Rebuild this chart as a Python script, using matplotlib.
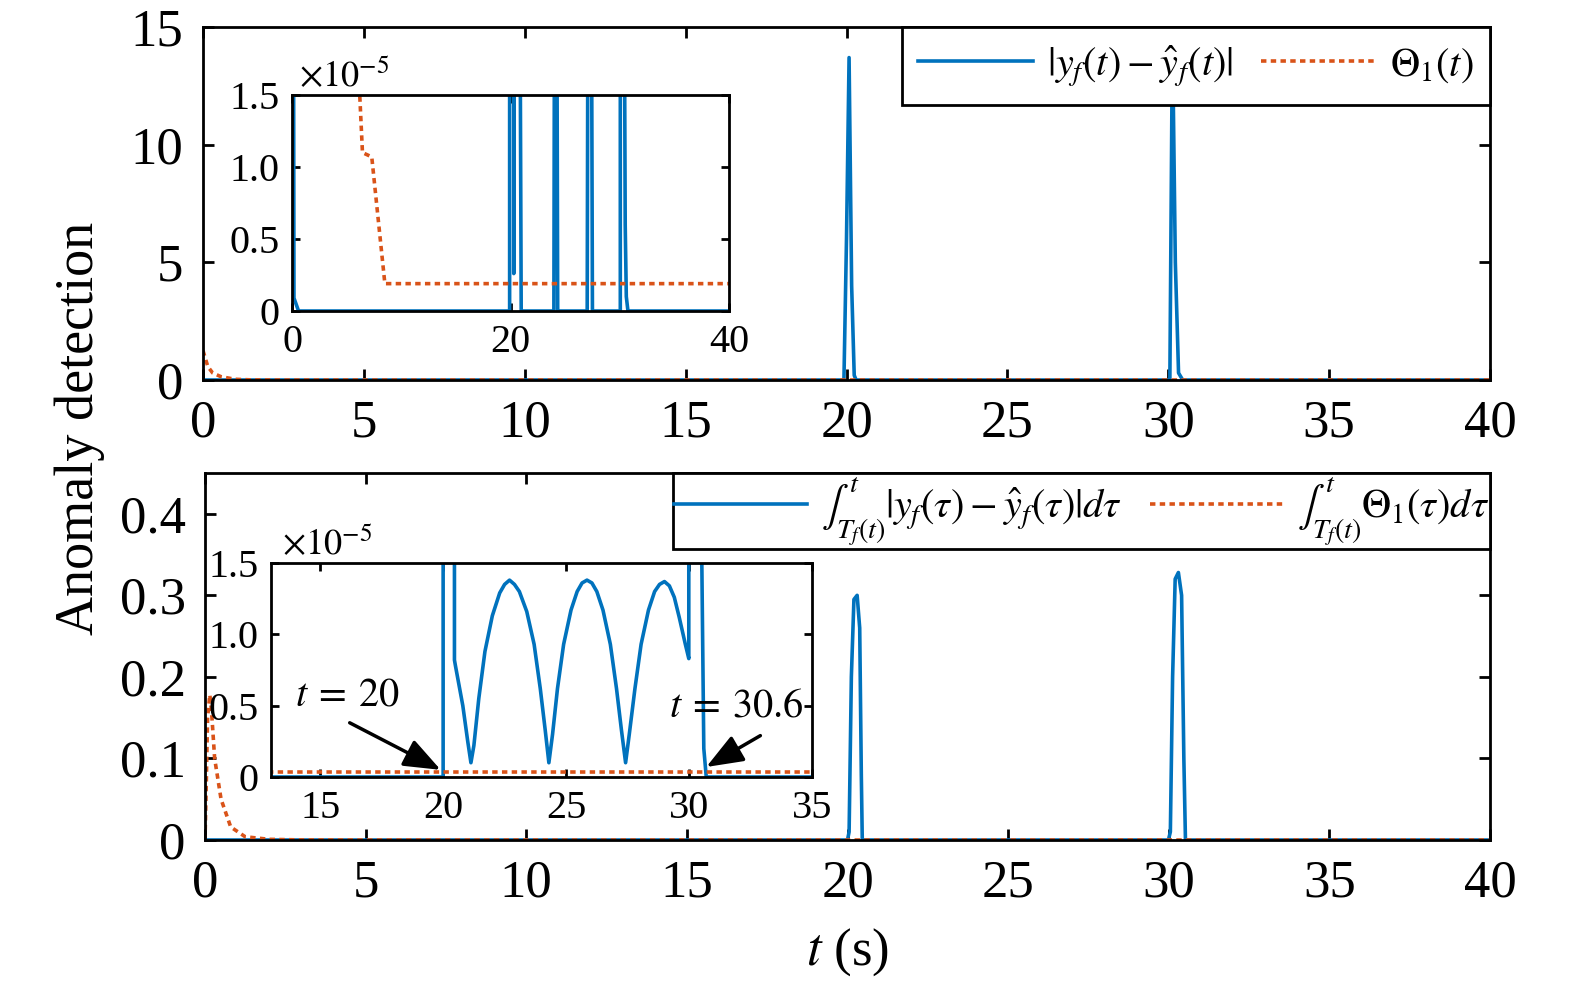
import numpy as np
import matplotlib
matplotlib.use('Agg')
import matplotlib.pyplot as plt

plt.rcParams['font.family'] = 'serif'
plt.rcParams['font.serif'] = ['Liberation Serif', 'DejaVu Serif']
plt.rcParams['mathtext.fontset'] = 'stix'

BLUE = '#0072BD'
ORANGE = '#D95319'

# top panel: residual |y_f - yhat_f| and threshold Theta_1
t_res = [0.0, 0.12, 0.18, 0.6, 19.92, 20.0, 20.08, 20.16, 20.24, 20.3, 20.4, 20.55,
         20.88, 20.98, 23.97, 24.02, 24.25, 24.32, 27.02, 27.08, 27.42, 27.5,
         30.05, 30.13, 30.22, 30.32, 30.45, 30.5, 30.6, 30.75, 40.0]
res = [6e-5, 3e-5, 0.09e-5, 0.0, 0.0, 6.0, 13.7, 4.0, 0.2, 0.26e-5, 4e-5, 3e-5,
       2e-5, 0.0, 0.0, 2e-5, 2e-5, 0.0, 0.0, 2e-5, 2e-5, 0.0,
       0.0, 14.8, 5.0, 0.3, 1.6e-5, 0.6e-5, 0.1e-5, 0.0, 0.0]

t_th = [0.0, 0.15, 0.3, 0.56, 1.0, 1.5, 2.5, 4.0, 6.2, 6.45, 7.3, 8.5, 40.0]
th = [1.25, 0.57, 0.3, 0.14, 0.03, 0.006, 4e-4, 5e-5, 1.5e-5, 1.1e-5, 1.07e-5, 0.19e-5, 0.19e-5]

# bottom panel: integrated residual and integrated threshold
t_int = [0.0, 20.0, 20.05, 20.12, 20.2, 20.3, 20.38, 20.43, 20.46, 20.5, 20.8, 21.0, 21.13,
         21.25, 21.45, 21.7, 22.0, 22.3, 22.5, 22.7, 22.9, 23.1, 23.4, 23.7, 23.95, 24.15, 24.3,
         24.45, 24.65, 24.9, 25.2, 25.45, 25.65, 25.85, 26.05, 26.25, 26.5, 26.8, 27.05, 27.25, 27.42,
         27.57, 27.8, 28.05, 28.35, 28.6, 28.8, 29.0, 29.2, 29.4, 29.6, 29.85, 29.99,
         30.05, 30.12, 30.2, 30.3, 30.4, 30.47, 30.52, 30.6, 30.7, 40.0]
res_int = [0.0, 0.0, 0.01, 0.2, 0.295, 0.30, 0.26, 0.08, 0.82e-5, 0.78e-5, 0.5e-5, 0.25e-5, 0.1e-5,
           0.22e-5, 0.55e-5, 0.88e-5, 1.13e-5, 1.29e-5, 1.35e-5, 1.38e-5, 1.35e-5, 1.3e-5, 1.16e-5, 0.93e-5, 0.62e-5, 0.33e-5, 0.1e-5,
           0.3e-5, 0.62e-5, 0.93e-5, 1.17e-5, 1.3e-5, 1.36e-5, 1.38e-5, 1.36e-5, 1.3e-5, 1.17e-5, 0.93e-5, 0.62e-5, 0.33e-5, 0.1e-5,
           0.3e-5, 0.62e-5, 0.93e-5, 1.17e-5, 1.3e-5, 1.35e-5, 1.37e-5, 1.34e-5, 1.26e-5, 1.12e-5, 0.93e-5, 0.83e-5,
           0.01, 0.2, 0.32, 0.328, 0.3, 0.1, 1.5e-5, 0.2e-5, 0.0, 0.0]

t_th_int = [0.0, 0.03, 0.08, 0.15, 0.2, 0.3, 0.5, 0.8, 1.25, 2.0, 3.0, 5.0, 8.0, 40.0]
th_int = [0.0, 0.05, 0.15, 0.178, 0.16, 0.10, 0.05, 0.016, 0.004, 8e-4, 1e-4, 5e-6, 0.035e-5, 0.035e-5]

x_ticks = [0, 5, 10, 15, 20, 25, 30, 35, 40]
top_yticks = [0, 5, 10, 15]
bot_yticks = [0, 0.1, 0.2, 0.3, 0.4]
bot_ylabels = ['0', '0.1', '0.2', '0.3', '0.4']
ins_yticks = [0, 0.5e-5, 1.0e-5, 1.5e-5]
ins_ylabels = ['0', '0.5', '1.0', '1.5']

W, H = 1575, 982
fig = plt.figure(figsize=(W / 100, H / 100), dpi=100)


def box(x0, y0, x1, y1):
    return [x0 / W, 1 - y1 / H, (x1 - x0) / W, (y1 - y0) / H]


ax1 = fig.add_axes(box(203, 27, 1490, 380))
ax2 = fig.add_axes(box(205, 473, 1490, 840))
ins1 = fig.add_axes(box(292, 95, 729, 311))
ins2 = fig.add_axes(box(271, 563, 812, 777))

dots = (0, (1.5, 1.2))


def style(ax, size, pad, length):
    for s in ax.spines.values():
        s.set_linewidth(2)
    ax.tick_params(direction='in', top=True, right=True, length=length, width=2,
                   labelsize=size, pad=pad)


def legend(ax, bpad, hlen):
    leg = ax.legend(loc='upper right', ncol=2, fontsize=29, frameon=True, fancybox=False,
                    framealpha=1, edgecolor='k', borderaxespad=0, handlelength=hlen,
                    handletextpad=0.35, columnspacing=0.7, borderpad=bpad)
    leg.get_frame().set_linewidth(2)


# top panel
ax1.plot(t_res, res, color=BLUE, lw=2.6, label=r'$|y_f(t)-\hat{y}_f(t)|$')
ax1.plot(t_th, th, color=ORANGE, lw=2.6, ls=dots, label=r'$\Theta_1(t)$')
ax1.set_xlim(0, 40)
ax1.set_ylim(0, 15)
ax1.set_xticks(x_ticks)
ax1.set_yticks(top_yticks)
style(ax1, 38, 14, 8)
legend(ax1, 0.4, 2.85)

ins1.plot(t_res, res, color=BLUE, lw=2.6)
ins1.plot(t_th, th, color=ORANGE, lw=2.6, ls=dots)
ins1.set_xlim(0, 40)
ins1.set_ylim(0, 1.5e-5)
ins1.set_xticks([0, 20, 40])
ins1.set_yticks(ins_yticks)
ins1.set_yticklabels(ins_ylabels)
style(ins1, 29, 9, 6)
ins1.text(0.015, 1.0, r'$\times10^{-5}$', transform=ins1.transAxes, fontsize=26,
          ha='left', va='bottom')

# bottom panel
ax2.plot(t_int, res_int, color=BLUE, lw=2.6,
         label=r'$\int_{T_f(t)}^{t}|y_f(\tau)-\hat{y}_f(\tau)|d\tau$')
ax2.plot(t_th_int, th_int, color=ORANGE, lw=2.6, ls=dots,
         label=r'$\int_{T_f(t)}^{t}\Theta_1(\tau)d\tau$')
ax2.set_xlim(0, 40)
ax2.set_ylim(0, 0.45)
ax2.set_xticks(x_ticks)
ax2.set_yticks(bot_yticks)
ax2.set_yticklabels(bot_ylabels)
style(ax2, 38, 14, 8)
ax2.set_xlabel(r'$t$ (s)', fontsize=38, labelpad=14)
legend(ax2, 0.02, 3.3)

ins2.plot(t_int, res_int, color=BLUE, lw=2.6)
ins2.plot(t_th_int, th_int, color=ORANGE, lw=2.6, ls=dots)
ins2.set_xlim(13, 35)
ins2.set_ylim(0, 1.5e-5)
ins2.set_xticks([15, 20, 25, 30, 35])
ins2.set_yticks(ins_yticks)
ins2.set_yticklabels(ins_ylabels)
style(ins2, 29, 9, 6)
ins2.text(0.02, 1.0, r'$\times10^{-5}$', transform=ins2.transAxes, fontsize=26,
          ha='left', va='bottom')

arrow = dict(arrowstyle='-|>,head_length=0.9,head_width=0.35', lw=2.5, color='k',
             shrinkA=0, shrinkB=0, mutation_scale=25)
ins2.annotate('', xy=(19.9, 0.05e-5), xytext=(16.2, 0.38e-5), arrowprops=arrow)
ins2.text(16.1, 0.57e-5, r'$t\:=\:20$', fontsize=29, ha='center', va='center')
ins2.annotate('', xy=(30.7, 0.07e-5), xytext=(32.9, 0.29e-5), arrowprops=arrow)
ins2.text(31.9, 0.49e-5, r'$t\:=\:30.6$', fontsize=29, ha='center', va='center')

fig.text(80 / W, 1 - 428 / H, 'Anomaly detection', rotation=90, fontsize=39,
         ha='center', va='center')

fig.savefig('out.png', dpi=100)
